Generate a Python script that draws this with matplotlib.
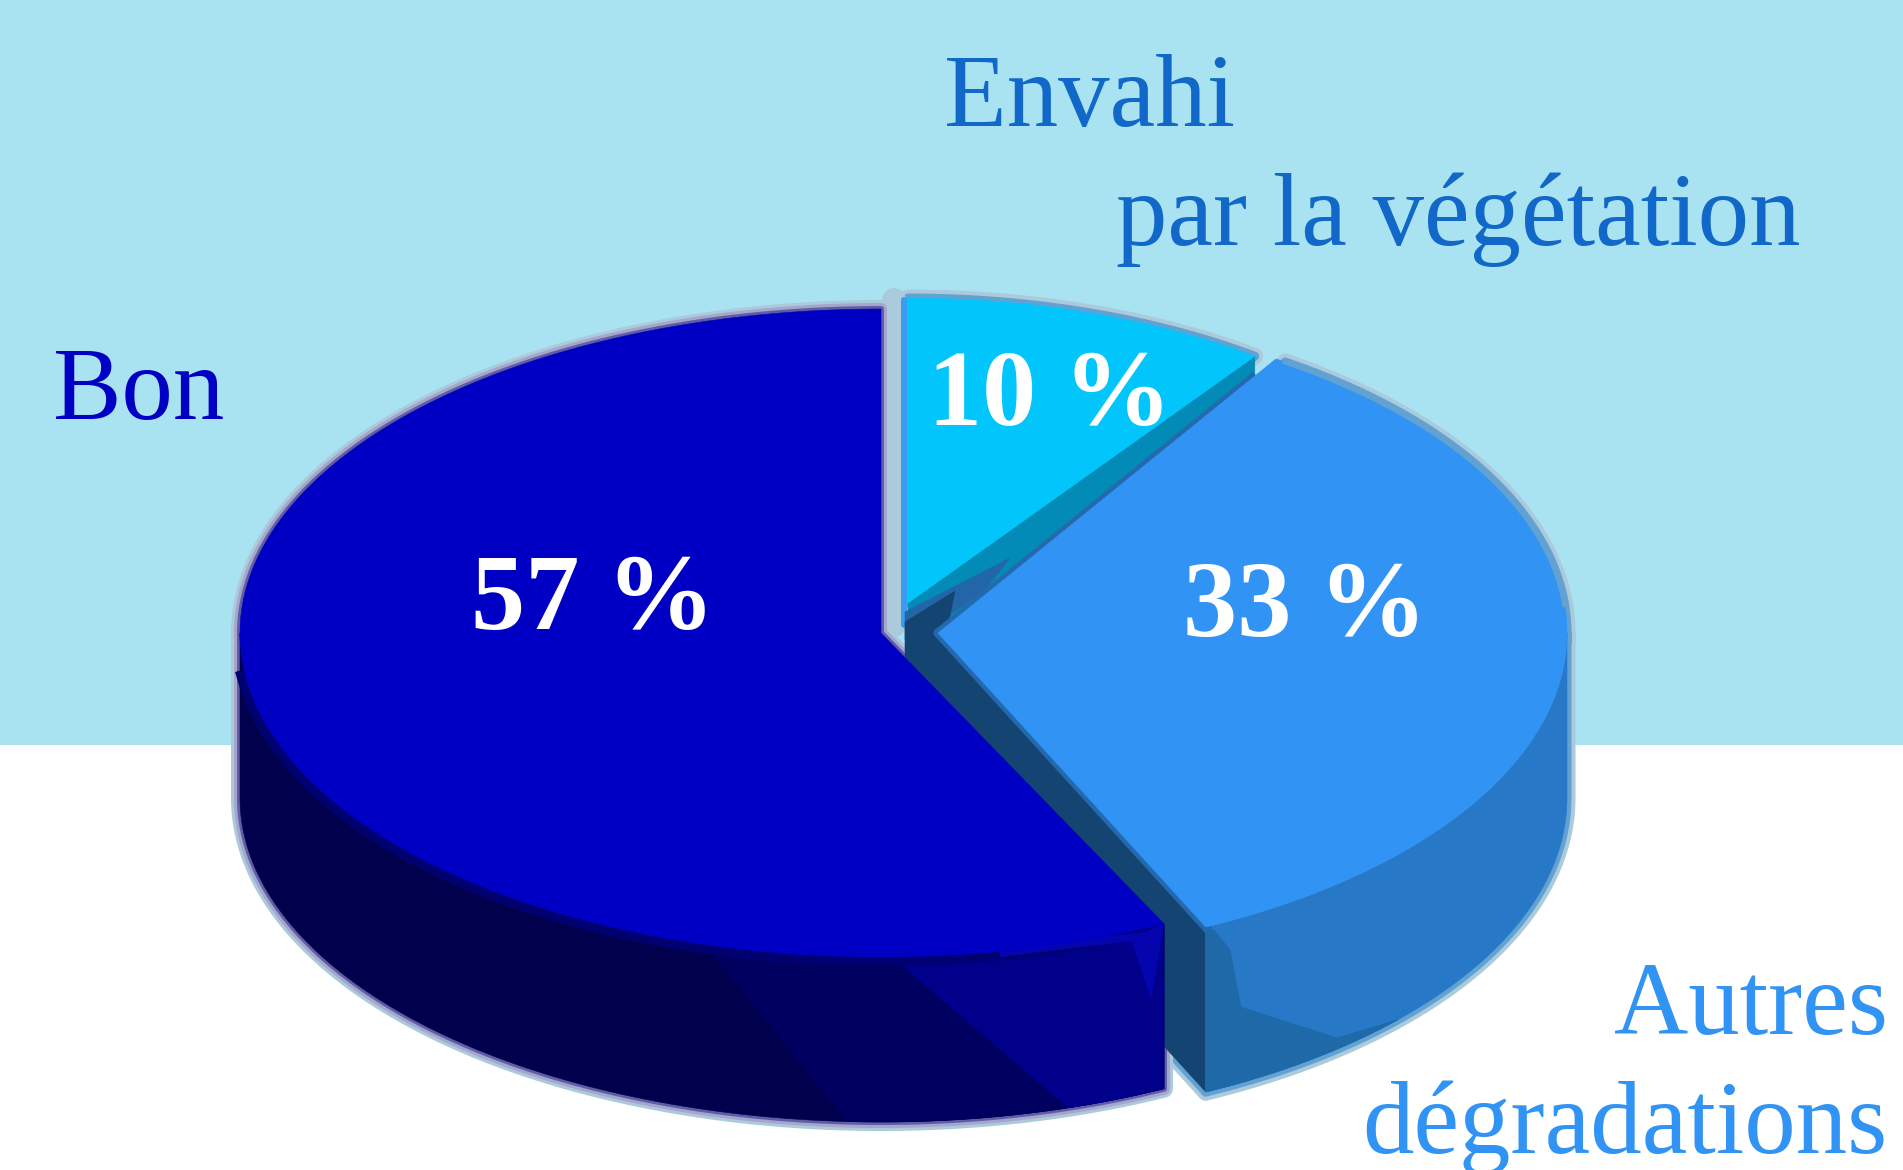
import numpy as np
import matplotlib
matplotlib.use("Agg")
import matplotlib.pyplot as plt
from matplotlib.patches import Polygon, Rectangle

# ---- data ----
categories = ["Envahi\npar la végétation", "Autres\ndégradations", "Bon"]
values = [10, 33, 57]
value_labels = ["10 %", "33 %", "57 %"]

SKY, WHITE = "#A9E3F2", "#FFFFFF"
TOP = ["#02C6FB", "#3193F3", "#0000C4"]
W, H = 1903, 1170
DEPTH = 165
SERIF = ["Liberation Serif", "DejaVu Serif"]

fig = plt.figure(figsize=(W / 100, H / 100), dpi=100, facecolor=WHITE)
ax = fig.add_axes([0, 0, 1, 1])
ax.set_xlim(0, W)
ax.set_ylim(H, 0)
ax.axis("off")
ax.add_patch(Rectangle((0, 0), W, 745, fc=SKY, ec="none", zorder=0))

edges = np.concatenate([[0], np.cumsum(values)]) * 360.0 / sum(values)
geo = [  # cx, cy, rx, ry, start skew, end skew
    (908, 603, 590, 305, 0, 0),
    (938, 633, 629, 325, -3.5, 0),
    (881, 633, 641, 324, -1, 0),
]
ang = [(edges[i] + geo[i][4], edges[i + 1] + geo[i][5]) for i in range(3)]


def arc(g, t1, t2, dy=0, n=200):
    t = np.radians(np.linspace(t1, t2, n))
    return np.c_[g[0] + g[2] * np.sin(t), g[1] - g[3] * np.cos(t) + dy]


def top_poly(i):
    g = geo[i]
    return np.vstack([[g[:2]], arc(g, *ang[i])])


def band(i, a, b, c=None, d=None):
    """wall between angles a..b on the top rim and c..d on the bottom rim"""
    g = geo[i]
    c = a if c is None else c
    d = b if d is None else d
    return np.vstack([arc(g, a, b), arc(g, c, d, DEPTH)[::-1]])


def cut(i, t):
    g = geo[i]
    p = arc(g, t, t, n=1)[0]
    return np.array([g[:2], p, p + [0, DEPTH], [g[0], g[1] + DEPTH]])


def fill(pts, color, z):
    ax.add_patch(Polygon(pts, closed=True, fc=color, ec=color, lw=0.4, zorder=z))


def halo(pts, stages, z):
    for k, (col, px) in enumerate(stages):
        ax.add_patch(Polygon(pts, closed=True, fill=False, ec=col, lw=px * 0.72,
                             joinstyle="round", zorder=z + k * 0.01))


LIGHT = [("#ABCBDC", 17), ("#62A2D2", 9)]
DARK = [("#ABCBDC", 18), ("#A5A5CE", 12), ("#5E5EA5", 6)]

t0a, t0b = ang[0]
t1a, t1b = ang[1]
t2a, t2b = ang[2]

# halos, behind everything
halo(top_poly(0), LIGHT, 1)
ax.plot([894, 894], [300, 625], color="#ABCBDC", lw=24 * 0.72, solid_capstyle="round", zorder=1.2)
ax.plot([904, 904], [300, 625], color="#3A9BEF", lw=6 * 0.72, solid_capstyle="round", zorder=1.3)
for poly in (arc(geo[1], t1a + 1, t1b), band(1, 90, t1b), cut(1, t1b)):
    halo(poly, LIGHT, 1.5)
for poly in (top_poly(2), band(2, t2a, 270)):
    halo(poly, DARK, 1.7)

# 10 % slice
fill(cut(0, t0b), "#028BB6", 3)
fill(top_poly(0), TOP[0], 3.1)

# inner shadow at the centre
fill(np.array([[905, 612], [1010, 558], [985, 590], [926, 632], [905, 640]]), "#2266A8", 3.2)
fill(np.array([[905, 622], [955, 591], [945, 640], [1000, 740], [905, 740]]), "#144472", 3.3)

# 33 % slice
g1 = geo[1]
fill(cut(1, t1b), "#144472", 4)
fill(band(1, 90, t1b), "#2878C8", 4.1)
corner = arc(g1, t1b, t1b, n=1)[0]
fac = np.vstack([arc(g1, t1b, 133, DEPTH, n=40),
                 [[1337, 1038], [1241, 1007], [1230, 950], [1214, corner[1] + 3], corner]])
fill(fac, "#1F69A8", 4.2)
a1 = arc(g1, t1a, t1a, n=1)[0]
a1s = np.array(g1[:2]) + 0.93 * (a1 - np.array(g1[:2]))
ax.plot([a1s[0], g1[0], corner[0]], [a1s[1], g1[1], corner[1]], color="#2468AE", lw=9 * 0.72,
        solid_joinstyle="round", zorder=4.3)
fill(top_poly(1), TOP[1], 4.4)
ax.plot(*arc(g1, t1a + 1, 85).T, color="#62A2D2", lw=5 * 0.72, zorder=4.45)

# 57 % slice
g2 = geo[2]
fill(band(2, t2a, 270), "#00004D", 5)
fill(band(2, t2a, 196, t2a, 183), "#000060", 5.1)
fill(band(2, t2a, 179, t2a, 163), "#00008B", 5.2)
ax.plot(*arc(g2, t2a + 3, 262).T, color="#000070", lw=18 * 0.72, zorder=5.3)
c2 = arc(g2, t2a, t2a, n=1)[0]
fill(np.array([[1000, 948], [1147, 932], c2, c2 + [-13, 74], c2 + [-32, 17], [1000, 957]]),
     "#0505B0", 5.35)
fill(top_poly(2), TOP[2], 5.4)

# labels
txt = dict(family=SERIF, va="baseline", zorder=8)
ax.text(944, 126, "Envahi", color="#1268C8", fontsize=74, ha="left", **txt)
ax.text(1116, 245, "par la végétation", color="#1268C8", fontsize=74, ha="left", **txt)
ax.text(53, 419, categories[2], color="#0000C4", fontsize=74, ha="left", **txt)
ax.text(1888, 1034, "Autres", color="#3193F3", fontsize=74, ha="right", **txt)
ax.text(1888, 1153, "dégradations", color="#3193F3", fontsize=74, ha="right", **txt)
ax.text(928, 425, value_labels[0], color="white", fontsize=78, fontweight="bold", ha="left", **txt)
ax.text(1183, 636, value_labels[1], color="white", fontsize=78, fontweight="bold", ha="left", **txt)
ax.text(471, 629, value_labels[2], color="white", fontsize=78, fontweight="bold", ha="left", **txt)

fig.savefig("out.png", dpi=100, facecolor=WHITE)
